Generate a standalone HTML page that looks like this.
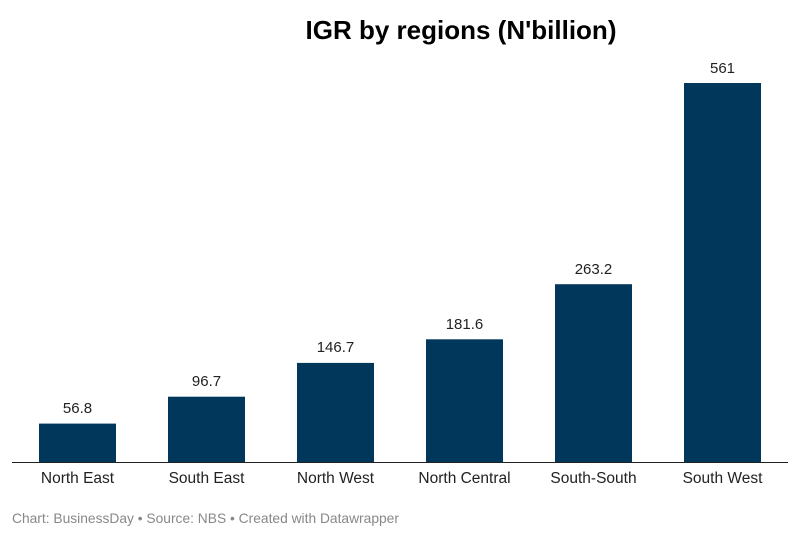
<!DOCTYPE html>
<html><head><meta charset="utf-8"><style>
body{margin:0;background:#fff;width:800px;height:542px;overflow:hidden;font-family:"Liberation Sans",sans-serif}
</style></head><body>
<svg width="800" height="542" xmlns="http://www.w3.org/2000/svg" font-family="Liberation Sans, sans-serif">
<text x="461" y="39" text-anchor="middle" font-size="26" font-weight="bold" fill="#000">IGR by regions (N'billion)</text>
<g fill="#02375c">
<rect x="39" y="423.6" width="77" height="38.4"/>
<rect x="168" y="396.7" width="77" height="65.3"/>
<rect x="297" y="362.9" width="77" height="99.1"/>
<rect x="426" y="339.3" width="77" height="122.7"/>
<rect x="555" y="284.2" width="77" height="177.8"/>
<rect x="684" y="83" width="77" height="379"/>
</g>
<line x1="12" y1="462.5" x2="788" y2="462.5" stroke="#222" stroke-width="1"/>
<g font-size="15" fill="#222" text-anchor="middle">
<text x="77.5" y="413">56.8</text>
<text x="206.5" y="386">96.7</text>
<text x="335.5" y="352">146.7</text>
<text x="464.5" y="329">181.6</text>
<text x="593.5" y="274">263.2</text>
<text x="722.5" y="73">561</text>
</g>
<g font-size="15.5" fill="#222" text-anchor="middle">
<text x="77.5" y="483">North East</text>
<text x="206.5" y="483">South East</text>
<text x="335.5" y="483">North West</text>
<text x="464.5" y="483">North Central</text>
<text x="593.5" y="483">South-South</text>
<text x="722.5" y="483">South West</text>
</g>
<text x="12" y="523" font-size="13.8" fill="#888">Chart: BusinessDay • Source: NBS • Created with Datawrapper</text>
</svg>
</body></html>
